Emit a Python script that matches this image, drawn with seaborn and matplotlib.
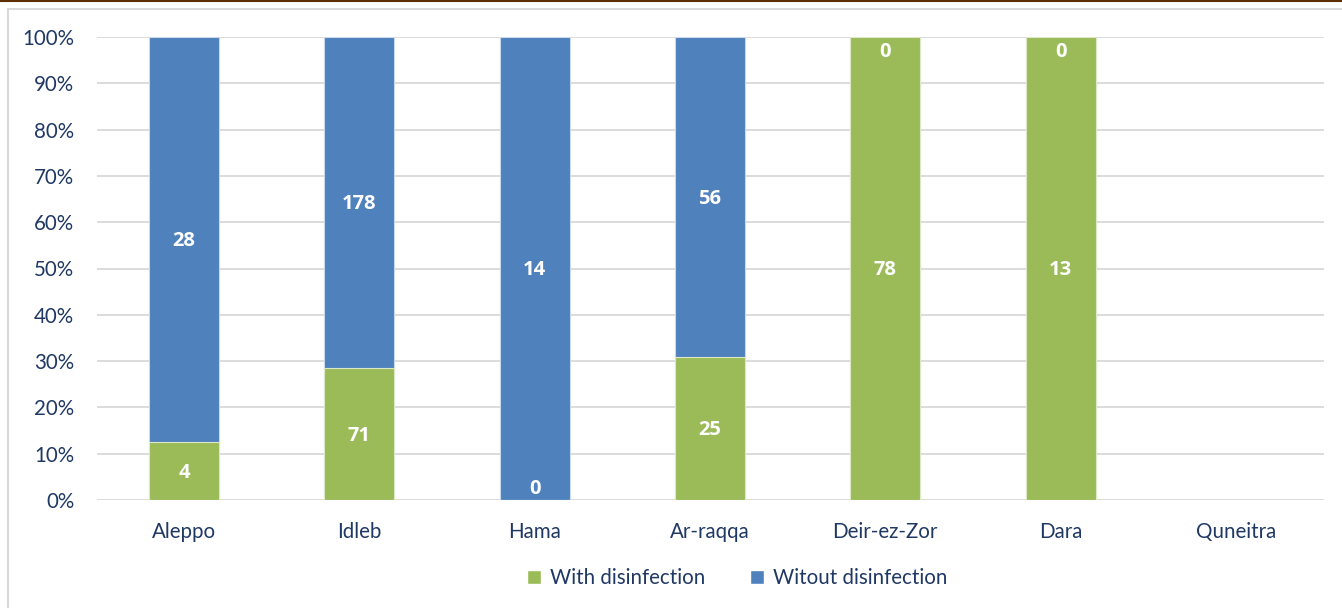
import numpy as np
import pandas as pd
import matplotlib
matplotlib.use("Agg")
import matplotlib.pyplot as plt
from matplotlib.patches import Rectangle, Patch
from matplotlib.lines import Line2D
import seaborn as sns

regions = ["Aleppo", "Idleb", "Hama", "Ar-raqqa", "Deir-ez-Zor", "Dara", "Quneitra"]
with_dis = [4, 71, 0, 25, 78, 13, 0]
without_dis = [28, 178, 14, 56, 0, 0, 0]
series_names = ["With disinfection", "Witout disinfection"]
ytick_vals = [0, 0.1, 0.2, 0.3, 0.4, 0.5, 0.6, 0.7, 0.8, 0.9, 1.0]

GREEN = "#9BBB59"
BLUE = "#4F81BD"
TXT = "#1F3864"
GRID = "#D9D9D9"

sns.set_theme(style="white")
plt.rcParams["font.family"] = ["Lato", "DejaVu Sans"]

w = np.array(with_dis, float)
wo = np.array(without_dis, float)
tot = w + wo
with_pct = np.where(tot > 0, w / np.where(tot > 0, tot, 1), np.nan)
top_pct = np.where(tot > 0, 1.0, np.nan)
df = pd.DataFrame({"region": regions, "with_pct": with_pct, "top_pct": top_pct})

fig = plt.figure(figsize=(13.42, 6.08), dpi=100)
ax = fig.add_axes([96.5 / 1342, 1 - 500 / 608, (1323.5 - 96.5) / 1342, (500 - 37) / 608])

sns.barplot(data=df, x="region", y="top_pct", order=regions, color=BLUE, width=0.4,
            saturation=1, ax=ax, zorder=3, linewidth=0.8, edgecolor="#C9D8EC")
sns.barplot(data=df, x="region", y="with_pct", order=regions, color=GREEN, width=0.4,
            saturation=1, ax=ax, zorder=4, linewidth=0.8, edgecolor="#DCE8C6")

ax.set_ylim(0, 1)
ax.set_xlim(-0.5, len(regions) - 0.5)
ax.set_yticks(ytick_vals)
ax.set_yticklabels([f"{int(round(v*100))}%" for v in ytick_vals])
ax.set_xlabel("")
ax.set_ylabel("")
for s in ax.spines.values():
    s.set_visible(False)
ax.grid(axis="y", color=GRID, linewidth=1.3, zorder=0)
ax.set_axisbelow(True)
ax.tick_params(axis="both", length=0, labelsize=14.8, labelcolor=TXT)
ax.tick_params(axis="y", pad=16)
ax.tick_params(axis="x", pad=16)

# value labels
lab_font = dict(ha="center", va="center", color="white", fontsize=14.5,
                fontweight="bold", family=["Open Sans", "DejaVu Sans"], zorder=6)
for i, r in enumerate(regions):
    if tot[i] <= 0:
        continue
    p = with_pct[i]
    gy = p / 2 if w[i] > 0 else 0.028
    ax.text(i, gy - 0.004, f"{int(w[i])}", **lab_font)
    by = p + (1 - p) / 2 if wo[i] > 0 else 1 - 0.028
    ax.text(i, by - 0.004, f"{int(wo[i])}", **lab_font)

handles = [Patch(facecolor=GREEN, label=series_names[0]),
           Patch(facecolor=BLUE, label=series_names[1])]
leg = fig.legend(handles=handles, loc="center", bbox_to_anchor=(737 / 1342, 1 - 578 / 608),
                 ncol=2, frameon=False, fontsize=14.8, handlelength=0.7, handleheight=0.7,
                 handletextpad=0.4, columnspacing=2.2)
for t in leg.get_texts():
    t.set_color(TXT)

# chart frame and top rule
fig.patches.append(Rectangle((8 / 1342, -0.1), 1.2, 1 - 9 / 608 + 0.1, transform=fig.transFigure,
                             fill=False, edgecolor="#D9D9D9", linewidth=1.5, zorder=0))
fig.lines.append(Line2D([0, 1], [1 - 1 / 608, 1 - 1 / 608], transform=fig.transFigure,
                        color="#5C2E00", linewidth=1.5))

fig.savefig("out.png", dpi=100)
